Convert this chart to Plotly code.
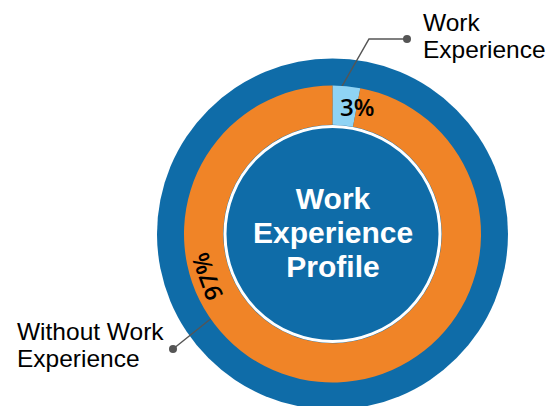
import plotly.graph_objects as go

# data
categories = ["Work Experience", "Without Work Experience"]
shares = [3, 97]
slice_colors = ["#8fd3f4", "#f08427"]
center_title = ["Work", "Experience", "Profile"]
label_lines = [["Work", "Experience"], ["Without Work", "Experience"]]

DARK_BLUE = "#0f6ca8"
W, H = 559, 406
CX, CY = 332.5, 234        # pixel centre of the rings
R_OUTER, R_RING, R_HOLE, R_INNER = 175.5, 148.5, 109.2, 107.5


def stacked(lines, px):
    # glyph size set per line so the <br> spacing follows the (smaller) base font size
    return "<br>".join(f"<span style='font-size:{px}px'>{t}</span>" for t in lines)


fig = go.Figure()

# donut with the two shares
fig.add_trace(go.Pie(
    labels=categories, values=shares, sort=False, direction="clockwise", rotation=0,
    hole=R_HOLE / R_RING, textinfo="none", hoverinfo="label+percent",
    marker=dict(colors=slice_colors, line=dict(width=0)),
    domain=dict(x=[(CX - R_RING) / W, (CX + R_RING) / W],
                y=[(H - CY - R_RING) / H, (H - CY + R_RING) / H]),
    showlegend=False,
))

# leader lines (pixel coordinates on hidden axes)
leaders = [
    ([407, 369, 333], [39, 39, 102]),
    ([173, 223], [349, 309]),
]
for xs, ys in leaders:
    fig.add_trace(go.Scatter(
        x=[xs[0], xs[-1]], y=[ys[0], ys[-1]], mode="markers",
        marker=dict(color="#555555", size=8), hoverinfo="skip", showlegend=False))
    fig.add_trace(go.Scatter(
        x=xs, y=ys, mode="lines", line=dict(color="#555555", width=1.5),
        hoverinfo="skip", showlegend=False))

shapes = [
    dict(type="circle", xref="x", yref="y", layer="below",
         x0=CX - R_OUTER, x1=CX + R_OUTER, y0=CY - R_OUTER, y1=CY + R_OUTER,
         fillcolor=DARK_BLUE, line=dict(width=0)),
    dict(type="circle", xref="x", yref="y", layer="above",
         x0=CX - R_INNER, x1=CX + R_INNER, y0=CY - R_INNER, y1=CY + R_INNER,
         fillcolor=DARK_BLUE, line=dict(color="white", width=3)),
]

pct_font = dict(family="Open Sans", size=24, color="black", weight=600)
side_font = dict(family="Liberation Sans", size=21.15, color="black")

annotations = [
    dict(x=357, y=106, text=f"{shares[0]}%", showarrow=False, font=pct_font),
    dict(x=206, y=277, text=f"{shares[1]}%", showarrow=False, font=pct_font, textangle=-110),
    dict(x=421, y=36, text=stacked(label_lines[0], 24.5), showarrow=False,
         xanchor="left", yanchor="middle", align="left", font=side_font),
    dict(x=15, y=344.5, text=stacked(label_lines[1], 24.5), showarrow=False,
         xanchor="left", yanchor="middle", align="left", font=side_font),
    dict(x=CX, y=232, text=stacked(center_title, 30), showarrow=False,
         yanchor="middle", align="center",
         font=dict(family="Liberation Sans", size=26.15, color="white", weight="bold")),
]

fig.update_layout(
    width=W, height=H, margin=dict(l=0, r=0, t=0, b=0),
    paper_bgcolor="white", plot_bgcolor="rgba(0,0,0,0)",
    xaxis=dict(range=[0, W], visible=False, fixedrange=True),
    yaxis=dict(range=[H, 0], visible=False, fixedrange=True),
    shapes=shapes, annotations=annotations,
)

fig.write_html("out.html", config={"displayModeBar": False},
               post_script="document.body.style.margin='0';")
